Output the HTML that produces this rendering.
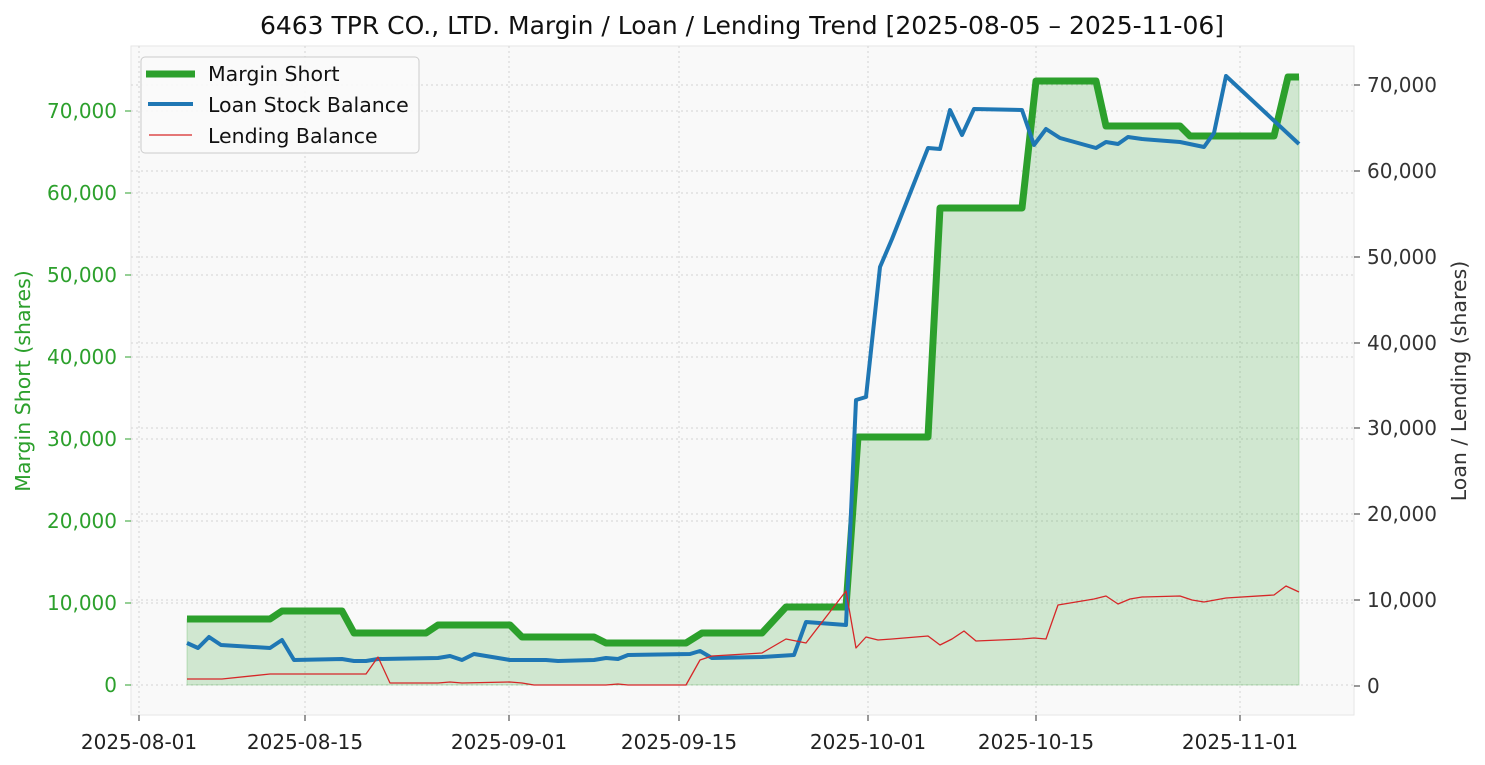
<!DOCTYPE html>
<html><head><meta charset="utf-8"><style>
html,body{margin:0;padding:0;background:#fff;}
svg{display:block;font-family:"DejaVu Sans","Liberation Sans",sans-serif;}
</style></head><body>
<svg width="1485" height="765" viewBox="0 0 1485 765" xmlns="http://www.w3.org/2000/svg">
<rect x="0" y="0" width="1485" height="765" fill="#fff"/>
<rect x="131" y="46" width="1223" height="669" fill="#f9f9f9" stroke="#e6e6e6" stroke-width="1"/>
<g stroke="#d4d4d4" stroke-width="1" stroke-dasharray="2,3">
<line x1="131" x2="1354" y1="685" y2="685"/><line x1="131" x2="1354" y1="603" y2="603"/><line x1="131" x2="1354" y1="521" y2="521"/><line x1="131" x2="1354" y1="439" y2="439"/><line x1="131" x2="1354" y1="357" y2="357"/><line x1="131" x2="1354" y1="275" y2="275"/><line x1="131" x2="1354" y1="193" y2="193"/><line x1="131" x2="1354" y1="111" y2="111"/>
<line x1="131" x2="1354" y1="600" y2="600"/><line x1="131" x2="1354" y1="514" y2="514"/><line x1="131" x2="1354" y1="428" y2="428"/><line x1="131" x2="1354" y1="343" y2="343"/><line x1="131" x2="1354" y1="257" y2="257"/><line x1="131" x2="1354" y1="171" y2="171"/><line x1="131" x2="1354" y1="85" y2="85"/>
<line y1="46" y2="715" x1="139" x2="139"/><line y1="46" y2="715" x1="305" x2="305"/><line y1="46" y2="715" x1="509" x2="509"/><line y1="46" y2="715" x1="679" x2="679"/><line y1="46" y2="715" x1="868" x2="868"/><line y1="46" y2="715" x1="1036" x2="1036"/><line y1="46" y2="715" x1="1240" x2="1240"/>
</g>
<polygon fill="#2ca02c" fill-opacity="0.2" stroke="#2ca02c" stroke-opacity="0.25" points="187,685 187,619 270,619 282,611 342,611 354,633 426,633 438,625 510,625 522,637 594,637 606,643 686,643 702,633 762,633 786,607 846,607 858,437 928,437 940,208 1022,208 1036,81 1096,81 1106,126 1180,126 1190,136 1274,136 1288,77 1299,77 1299,685"/>
<polyline fill="none" stroke="#2ca02c" stroke-width="7" stroke-linejoin="round" points="187,619 270,619 282,611 342,611 354,633 426,633 438,625 510,625 522,637 594,637 606,643 686,643 702,633 762,633 786,607 846,607 858,437 928,437 940,208 1022,208 1036,81 1096,81 1106,126 1180,126 1190,136 1274,136 1288,77 1299,77"/>
<polyline fill="none" stroke="#1f77b4" stroke-width="4" stroke-linejoin="round" points="187,643 198,648 209,637 221,645 270,648 282,640 294,660 342,659 354,661 366,661 378,659 438,658 450,656 462,660 474,654 510,660 546,660 558,661 594,660 606,658 618,659 628,655 690,654 700,651 712,658 762,657 794,655 806,622 846,625 856,400 866,397 880,267 892,239 928,148 940,149 950,110 962,135 974,109 1022,110 1034,145 1046,129 1060,138 1096,148 1106,142 1118,144 1128,137 1142,139 1180,142 1204,147 1214,133 1226,76 1299,144"/>
<polyline fill="none" stroke="#d62728" stroke-width="1.3" stroke-linejoin="round" points="187,679 222,679 270,674 366,674 378,657 390,683 438,683 450,682 462,683 510,682 522,683 534,685 606,685 618,684 628,685 686,685 700,660 712,656 762,653 786,639 806,643 846,591 856,648 866,637 878,640 892,639 928,636 940,645 952,639 964,631 976,641 1022,639 1034,638 1046,639 1058,605 1094,599 1106,596 1118,604 1130,599 1142,597 1180,596 1192,600 1204,602 1226,598 1274,595 1286,586 1299,592"/>
<g font-size="20" fill="#2ca02c" text-anchor="end">
<text x="117" y="692">0</text><text x="117" y="610">10,000</text><text x="117" y="528">20,000</text><text x="117" y="446">30,000</text><text x="117" y="364">40,000</text><text x="117" y="282">50,000</text><text x="117" y="200">60,000</text><text x="117" y="118">70,000</text>
</g>
<g stroke="#2ca02c" stroke-width="1"><line x1="125" x2="131" y1="685" y2="685"/><line x1="125" x2="131" y1="603" y2="603"/><line x1="125" x2="131" y1="521" y2="521"/><line x1="125" x2="131" y1="439" y2="439"/><line x1="125" x2="131" y1="357" y2="357"/><line x1="125" x2="131" y1="275" y2="275"/><line x1="125" x2="131" y1="193" y2="193"/><line x1="125" x2="131" y1="111" y2="111"/></g>
<g font-size="20" fill="#333" text-anchor="start">
<text x="1367" y="693">0</text><text x="1367" y="607">10,000</text><text x="1367" y="521">20,000</text><text x="1367" y="435">30,000</text><text x="1367" y="350">40,000</text><text x="1367" y="264">50,000</text><text x="1367" y="178">60,000</text><text x="1367" y="92">70,000</text>
</g>
<g stroke="#333" stroke-width="1"><line x1="1354" x2="1360" y1="686" y2="686"/><line x1="1354" x2="1360" y1="600" y2="600"/><line x1="1354" x2="1360" y1="514" y2="514"/><line x1="1354" x2="1360" y1="428" y2="428"/><line x1="1354" x2="1360" y1="343" y2="343"/><line x1="1354" x2="1360" y1="257" y2="257"/><line x1="1354" x2="1360" y1="171" y2="171"/><line x1="1354" x2="1360" y1="85" y2="85"/></g>
<g font-size="20" fill="#222" text-anchor="middle">
<text x="139" y="749">2025-08-01</text><text x="305" y="749">2025-08-15</text><text x="509" y="749">2025-09-01</text><text x="679" y="749">2025-09-15</text><text x="868" y="749">2025-10-01</text><text x="1036" y="749">2025-10-15</text><text x="1240" y="749">2025-11-01</text>
</g>
<g stroke="#333" stroke-width="1"><line y1="715" y2="721" x1="139" x2="139"/><line y1="715" y2="721" x1="305" x2="305"/><line y1="715" y2="721" x1="509" x2="509"/><line y1="715" y2="721" x1="679" x2="679"/><line y1="715" y2="721" x1="868" x2="868"/><line y1="715" y2="721" x1="1036" x2="1036"/><line y1="715" y2="721" x1="1240" x2="1240"/></g>
<text x="742" y="34" font-size="25" fill="#111" text-anchor="middle">6463 TPR CO., LTD. Margin / Loan / Lending Trend [2025-08-05 – 2025-11-06]</text>
<text transform="translate(30,381) rotate(-90)" font-size="20.5" fill="#2ca02c" text-anchor="middle">Margin Short (shares)</text>
<text transform="translate(1466,381) rotate(-90)" font-size="20.5" fill="#333" text-anchor="middle">Loan / Lending (shares)</text>
<rect x="141" y="57" width="278" height="96" rx="4" fill="#f9f9f9" fill-opacity="0.9" stroke="#cccccc" stroke-width="1"/>
<line x1="146" x2="195" y1="74" y2="74" stroke="#2ca02c" stroke-width="7"/>
<line x1="148" x2="193" y1="104" y2="104" stroke="#1f77b4" stroke-width="4"/>
<line x1="149" x2="192" y1="135" y2="135" stroke="#d62728" stroke-width="1.3"/>
<g font-size="20.5" fill="#111"><text x="208" y="81">Margin Short</text><text x="208" y="112">Loan Stock Balance</text><text x="208" y="143">Lending Balance</text></g>
</svg>
</body></html>
